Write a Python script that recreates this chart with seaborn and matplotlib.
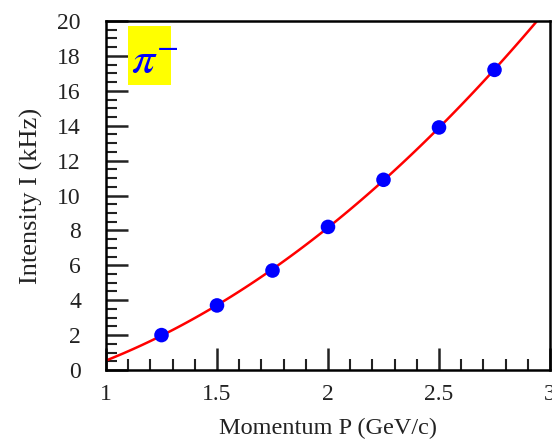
import matplotlib
matplotlib.use("Agg")
import matplotlib.pyplot as plt
import seaborn as sns
import pandas as pd
from matplotlib.ticker import MultipleLocator
from matplotlib.patches import Rectangle

sns.set_style("white")
plt.rcParams['font.family'] = ['Liberation Serif', 'DejaVu Serif']
plt.rcParams['mathtext.fontset'] = 'stix'

momentum = [1.25, 1.5, 1.75, 2.0, 2.25, 2.5, 2.75]
intensity = [2.0, 3.7, 5.7, 8.2, 10.9, 13.9, 17.2]
df = pd.DataFrame({"P": momentum, "I": intensity})

fig = plt.figure(figsize=(5.52, 4.48), dpi=100)
ax = fig.add_axes([106/552, 1 - 370/448, (550-106)/552, (370-21)/448])
ax.set_xlim(1, 3)
ax.set_ylim(0, 20)

sns.regplot(data=df, x="P", y="I", order=2, ci=None, truncate=False, ax=ax,
            scatter_kws=dict(color="#0000ff", s=110, edgecolors="none", alpha=1, zorder=3),
            line_kws=dict(color="#ff0000", lw=1.8, zorder=2))
ax.set_xlim(1, 3)
ax.set_ylim(0, 20)

ax.xaxis.set_major_locator(MultipleLocator(0.5))
ax.xaxis.set_minor_locator(MultipleLocator(0.1))
ax.yaxis.set_major_locator(MultipleLocator(2))
ax.yaxis.set_minor_locator(MultipleLocator(0.5))
ax.tick_params(which="both", bottom=True, left=True, top=False, right=False)
ax.tick_params(which="major", direction="in", length=16, width=1.8, labelsize=17, colors="#222222")
ax.tick_params(axis="x", which="major", pad=10)
ax.tick_params(axis="y", which="major", pad=18)
ax.tick_params(which="minor", direction="in", length=8, width=1.5, color="#222222")
ax.set_xticks([1, 1.5, 2, 2.5, 3])
ax.set_xticklabels(["1", "1.5", "2", "2.5", "3"])
for s in ax.spines.values():
    s.set_linewidth(1.8)
    s.set_color("black")

ax.set_xlabel("Momentum P (GeV/c)", fontsize=17.5, labelpad=9, color="#222222")
ax.set_ylabel("Intensity I (kHz)", fontsize=19, labelpad=10, color="#222222")

ax.add_patch(Rectangle((0.0495, 0.817), 0.097, 0.169, transform=ax.transAxes,
                       facecolor="#ffff00", edgecolor="none", zorder=1))
ax.text(0.056, 0.88, r"$\pi^{-}$", transform=ax.transAxes, fontsize=33, color="#0000ff",
        ha="left", va="center", zorder=4)

fig.savefig("out.png", dpi=100)
